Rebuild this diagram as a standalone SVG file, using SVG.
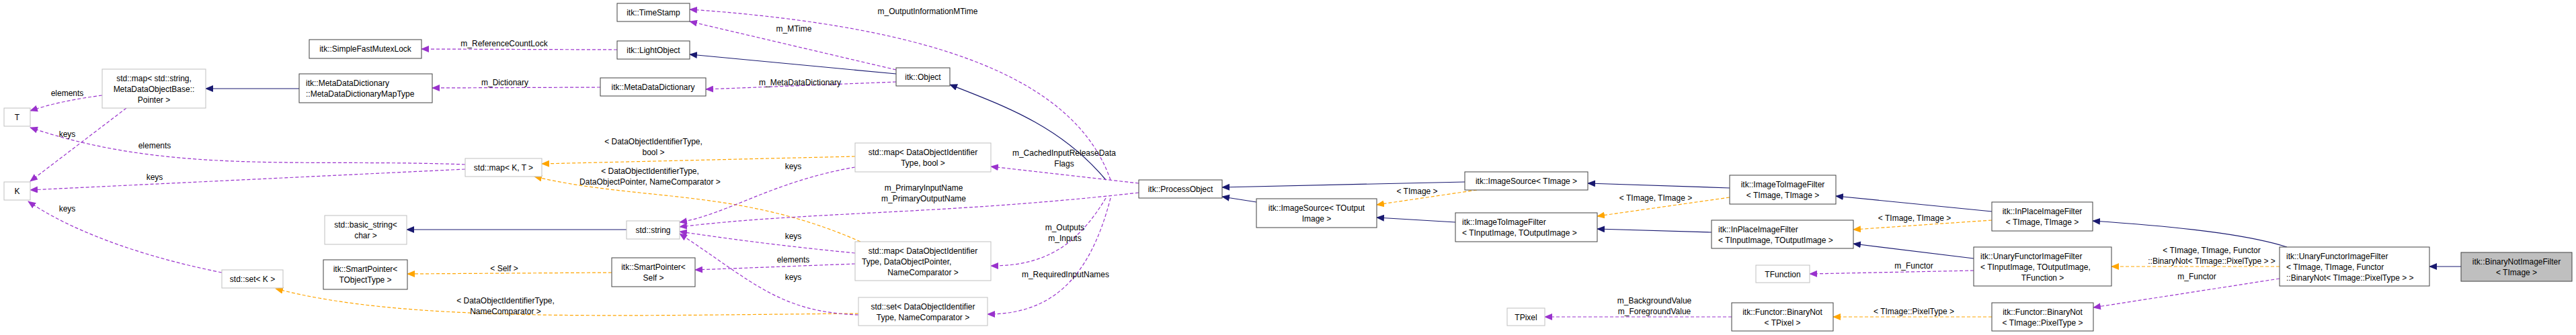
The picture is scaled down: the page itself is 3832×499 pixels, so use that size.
<svg xmlns="http://www.w3.org/2000/svg" width="3832" height="499" viewBox="0 0 3832 499">
<defs>
<marker id="aN" markerWidth="12" markerHeight="10" refX="11" refY="5" orient="auto" markerUnits="userSpaceOnUse"><path d="M0,0 L12,5 L0,10 z" fill="#191970"/></marker>
<marker id="aP" markerWidth="12" markerHeight="10" refX="11" refY="5" orient="auto" markerUnits="userSpaceOnUse"><path d="M0,0 L12,5 L0,10 z" fill="#9a32cd"/></marker>
<marker id="aO" markerWidth="12" markerHeight="10" refX="11" refY="5" orient="auto" markerUnits="userSpaceOnUse"><path d="M0,0 L12,5 L0,10 z" fill="#ffa500"/></marker>
</defs>
<style>
text{font-family:"Liberation Sans",Arial,sans-serif;font-size:12px;fill:#000}
.c{text-anchor:middle}
.g{fill:#fff;stroke:#bfbfbf;stroke-width:1}
.b{fill:#fff;stroke:#404040;stroke-width:1}
.f{fill:#bfbfbf;stroke:#404040;stroke-width:1}
.n{fill:none;stroke:#191970;stroke-width:1.2;marker-end:url(#aN)}
.p{fill:none;stroke:#9a32cd;stroke-width:1.2;stroke-dasharray:5,3;marker-end:url(#aP)}
.o{fill:none;stroke:#ffa500;stroke-width:1.2;stroke-dasharray:5,3;marker-end:url(#aO)}
</style>
<rect width="3832" height="499" fill="#fff"/>
<g id="edges">
<path class="p" d="M918,74 L627,73"/>
<path class="p" d="M893,130 L643,131"/>
<path class="n" d="M445,132 L306,132"/>
<path class="p" d="M152,142 Q90,150 45,165"/>
<path class="p" d="M188,161 L45,270"/>
<path class="p" d="M692,245 C450,236 250,260 45,190"/>
<path class="p" d="M692,252 L45,283"/>
<path class="p" d="M330,406 C200,380 100,340 42,300"/>
<path class="o" d="M1277,467 C900,470 600,480 410,430"/>
<path class="n" d="M932,342 L605,342"/>
<path class="o" d="M910,406 L606,408"/>
<path class="o" d="M1272,233 L806,244"/>
<path class="o" d="M1280,360 C1100,280 950,300 795,263"/>
<path class="p" d="M1272,249 C1150,270 1080,320 1011,331"/>
<path class="p" d="M1694,287 C1400,320 1200,315 1011,338"/>
<path class="p" d="M1272,377 C1150,365 1080,355 1011,345"/>
<path class="p" d="M1272,393 L1034,402"/>
<path class="p" d="M1277,469 C1160,465 1120,420 1011,348"/>
<path class="p" d="M1333,104 L1026,32"/>
<path class="n" d="M1333,110 L1026,81"/>
<path class="p" d="M1333,122 L1050,133"/>
<path class="p" d="M1652,268 C1600,120 1400,40 1026,14"/>
<path class="n" d="M1645,268 C1580,190 1500,160 1413,126"/>
<path class="p" d="M1694,273 L1474,248"/>
<path class="p" d="M1645,295 C1600,370 1550,396 1474,396"/>
<path class="p" d="M1652,295 C1620,420 1560,468 1469,468"/>
<path class="n" d="M1869,301 L1818,293"/>
<path class="n" d="M2179,271 L1818,279"/>
<path class="o" d="M2197,283 L2048,305"/>
<path class="n" d="M2165,331 L2048,324"/>
<path class="n" d="M2573,280 L2362,273"/>
<path class="o" d="M2573,294 L2376,322"/>
<path class="n" d="M2546,346 L2376,341"/>
<path class="n" d="M2963,315 L2731,292"/>
<path class="o" d="M2963,328 L2757,342"/>
<path class="n" d="M2936,385 L2757,363"/>
<path class="p" d="M2936,403 L2692,408"/>
<path class="o" d="M2963,472 L2727,472"/>
<path class="p" d="M2576,472 L2298,472"/>
<path class="n" d="M3402,368 C3330,345 3200,335 3113,329"/>
<path class="o" d="M3391,397 L3141,397"/>
<path class="p" d="M3391,415 L3114,458"/>
<path class="n" d="M3661,397 L3614,397"/>
<text class="c" x="750" y="69">m_ReferenceCountLock</text>
<text class="c" x="751" y="127">m_Dictionary</text>
<text class="c" x="100" y="143">elements</text>
<text class="c" x="100" y="204">keys</text>
<text class="c" x="230" y="221">elements</text>
<text class="c" x="230" y="268">keys</text>
<text class="c" x="100" y="315">keys</text>
<text class="c" x="752" y="452">&lt; DataObjectIdentifierType,</text>
<text class="c" x="752" y="468">NameComparator &gt;</text>
<text class="c" x="750" y="404">&lt; Self &gt;</text>
<text class="c" x="972" y="215">&lt; DataObjectIdentifierType,</text>
<text class="c" x="972" y="231">bool &gt;</text>
<text class="c" x="967" y="259">&lt; DataObjectIdentifierType,</text>
<text class="c" x="967" y="275">DataObjectPointer, NameComparator &gt;</text>
<text class="c" x="1180" y="252">keys</text>
<text class="c" x="1374" y="284">m_PrimaryInputName</text>
<text class="c" x="1374" y="300">m_PrimaryOutputName</text>
<text class="c" x="1180" y="356">keys</text>
<text class="c" x="1180" y="391">elements</text>
<text class="c" x="1180" y="417">keys</text>
<text class="c" x="1181" y="47">m_MTime</text>
<text class="c" x="1190" y="127">m_MetaDataDictionary</text>
<text class="c" x="1380" y="21">m_OutputInformationMTime</text>
<text class="c" x="1583" y="232">m_CachedInputReleaseData</text>
<text class="c" x="1583" y="248">Flags</text>
<text class="c" x="1584" y="343">m_Outputs</text>
<text class="c" x="1584" y="359">m_Inputs</text>
<text class="c" x="1585" y="413">m_RequiredInputNames</text>
<text class="c" x="2108" y="289">&lt; TImage &gt;</text>
<text class="c" x="2463" y="299">&lt; TImage, TImage &gt;</text>
<text class="c" x="2848" y="329">&lt; TImage, TImage &gt;</text>
<text class="c" x="2847" y="400">m_Functor</text>
<text class="c" x="2847" y="468">&lt; TImage::PixelType &gt;</text>
<text class="c" x="2461" y="452">m_BackgroundValue</text>
<text class="c" x="2461" y="468">m_ForegroundValue</text>
<text class="c" x="3290" y="377">&lt; TImage, TImage, Functor</text>
<text class="c" x="3290" y="393">::BinaryNot&lt; TImage::PixelType &gt; &gt;</text>
<text class="c" x="3268" y="416">m_Functor</text>
</g>
<g id="n1"><rect class="g" x="6" y="161" width="39" height="27"/><text class="c" x="25.5" y="179">T</text></g>
<g id="n2"><rect class="g" x="6" y="271" width="39" height="27"/><text class="c" x="25.5" y="289">K</text></g>
<g id="n3"><rect class="g" x="152" y="103" width="154" height="58"/><text class="c" x="229" y="121">std::map&lt; std::string,</text><text class="c" x="229" y="137">MetaDataObjectBase::</text><text class="c" x="229" y="153">Pointer &gt;</text></g>
<g id="n4"><rect class="b" x="460" y="59" width="167" height="28"/><text class="c" x="543.5" y="77">itk::SimpleFastMutexLock</text></g>
<g id="n5"><rect class="b" x="445" y="110" width="198" height="43"/><text x="455" y="128">itk::MetaDataDictionary</text><text x="455" y="144">::MetaDataDictionaryMapType</text></g>
<g id="n6"><rect class="g" x="483" y="321" width="122" height="43"/><text class="c" x="544" y="339">std::basic_string&lt;</text><text class="c" x="544" y="355">char &gt;</text></g>
<g id="n7"><rect class="b" x="481" y="387" width="125" height="44"/><text class="c" x="543.5" y="405">itk::SmartPointer&lt;</text><text class="c" x="543.5" y="421">TObjectType &gt;</text></g>
<g id="n8"><rect class="g" x="330" y="402" width="91" height="27"/><text class="c" x="375.5" y="420">std::set&lt; K &gt;</text></g>
<g id="n9"><rect class="b" x="918" y="5" width="108" height="27"/><text class="c" x="972" y="23">itk::TimeStamp</text></g>
<g id="n10"><rect class="b" x="918" y="61" width="108" height="27"/><text class="c" x="972" y="79">itk::LightObject</text></g>
<g id="n11"><rect class="b" x="893" y="116" width="157" height="27"/><text class="c" x="971.5" y="134">itk::MetaDataDictionary</text></g>
<g id="n12"><rect class="g" x="692" y="236" width="114" height="27"/><text class="c" x="749" y="254">std::map&lt; K, T &gt;</text></g>
<g id="n13"><rect class="g" x="932" y="329" width="79" height="27"/><text class="c" x="971.5" y="347">std::string</text></g>
<g id="n14"><rect class="b" x="910" y="384" width="124" height="43"/><text class="c" x="972" y="402">itk::SmartPointer&lt;</text><text class="c" x="972" y="418">Self &gt;</text></g>
<g id="n15"><rect class="g" x="1272" y="213" width="202" height="43"/><text class="c" x="1373" y="231">std::map&lt; DataObjectIdentifier</text><text class="c" x="1373" y="247">Type, bool &gt;</text></g>
<g id="n16"><rect class="g" x="1272" y="360" width="202" height="58"/><text class="c" x="1373" y="378">std::map&lt; DataObjectIdentifier</text><text x="1282" y="394">Type, DataObjectPointer,</text><text class="c" x="1373" y="410">NameComparator &gt;</text></g>
<g id="n17"><rect class="g" x="1277" y="443" width="192" height="42"/><text class="c" x="1373" y="461">std::set&lt; DataObjectIdentifier</text><text class="c" x="1373" y="477">Type, NameComparator &gt;</text></g>
<g id="n18"><rect class="b" x="1333" y="101" width="80" height="27"/><text class="c" x="1373" y="119">itk::Object</text></g>
<g id="n19"><rect class="b" x="1694" y="268" width="124" height="27"/><text class="c" x="1756" y="286">itk::ProcessObject</text></g>
<g id="n20"><rect class="b" x="1869" y="296" width="179" height="43"/><text class="c" x="1958.5" y="314">itk::ImageSource&lt; TOutput</text><text class="c" x="1958.5" y="330">Image &gt;</text></g>
<g id="n21"><rect class="b" x="2179" y="256" width="183" height="27"/><text class="c" x="2270.5" y="274">itk::ImageSource&lt; TImage &gt;</text></g>
<g id="n22"><rect class="b" x="2165" y="317" width="211" height="43"/><text x="2175" y="335">itk::ImageToImageFilter</text><text x="2175" y="351">&lt; TInputImage, TOutputImage &gt;</text></g>
<g id="n23"><rect class="g" x="2242" y="459" width="56" height="26"/><text class="c" x="2270" y="477">TPixel</text></g>
<g id="n24"><rect class="b" x="2573" y="261" width="158" height="43"/><text class="c" x="2652" y="279">itk::ImageToImageFilter</text><text class="c" x="2652" y="295">&lt; TImage, TImage &gt;</text></g>
<g id="n25"><rect class="b" x="2963" y="301" width="150" height="43"/><text class="c" x="3038" y="319">itk::InPlaceImageFilter</text><text class="c" x="3038" y="335">&lt; TImage, TImage &gt;</text></g>
<g id="n26"><rect class="b" x="2546" y="328" width="211" height="42"/><text x="2556" y="346">itk::InPlaceImageFilter</text><text x="2556" y="362">&lt; TInputImage, TOutputImage &gt;</text></g>
<g id="n27"><rect class="g" x="2612" y="395" width="80" height="26"/><text class="c" x="2652" y="413">TFunction</text></g>
<g id="n28"><rect class="b" x="2936" y="368" width="205" height="58"/><text x="2946" y="386">itk::UnaryFunctorImageFilter</text><text x="2946" y="402">&lt; TInputImage, TOutputImage,</text><text class="c" x="3038.5" y="418">TFunction &gt;</text></g>
<g id="n29"><rect class="b" x="2576" y="451" width="151" height="42"/><text class="c" x="2651.5" y="469">itk::Functor::BinaryNot</text><text class="c" x="2651.5" y="485">&lt; TPixel &gt;</text></g>
<g id="n30"><rect class="b" x="2963" y="451" width="151" height="42"/><text class="c" x="3038.5" y="469">itk::Functor::BinaryNot</text><text class="c" x="3038.5" y="485">&lt; TImage::PixelType &gt;</text></g>
<g id="n31"><rect class="b" x="3391" y="368" width="223" height="58"/><text x="3401" y="386">itk::UnaryFunctorImageFilter</text><text x="3401" y="402">&lt; TImage, TImage, Functor</text><text x="3401" y="418">::BinaryNot&lt; TImage::PixelType &gt; &gt;</text></g>
<g id="n32"><rect class="f" x="3661" y="376" width="165" height="43"/><text class="c" x="3743.5" y="394">itk::BinaryNotImageFilter</text><text class="c" x="3743.5" y="410">&lt; TImage &gt;</text></g>
</svg>
